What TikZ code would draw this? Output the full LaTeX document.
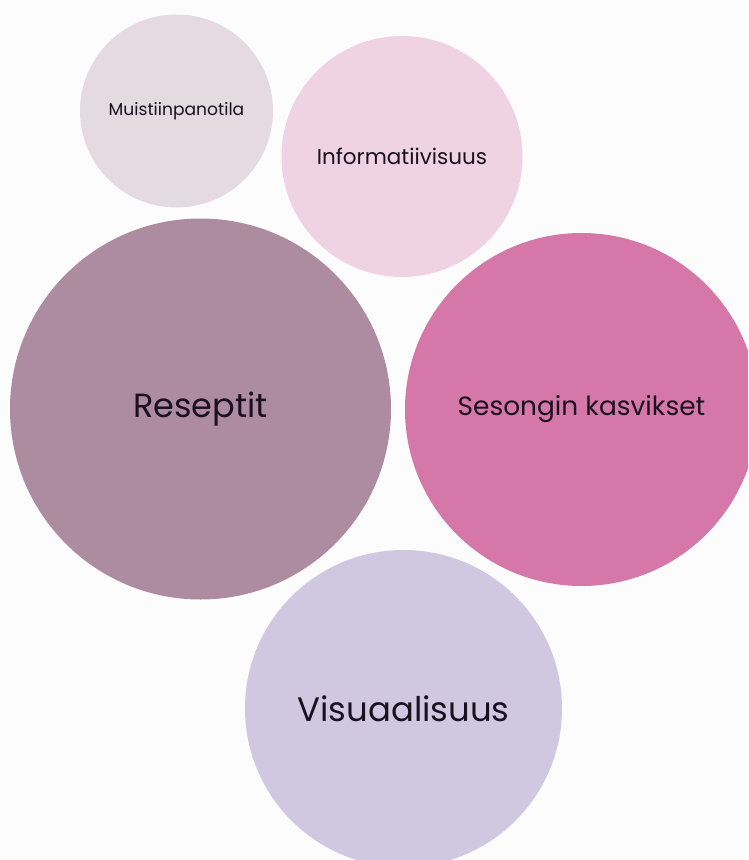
\documentclass[tikz,border=0pt]{standalone}
\usepackage{fontspec}
\setmainfont{Poppins}
\definecolor{bgc}{HTML}{FDFCFD}
\definecolor{inkc}{HTML}{1A1020}
\definecolor{cmuist}{HTML}{E4DADF}
\definecolor{cinfo}{HTML}{F0D3E3}
\definecolor{cresep}{HTML}{AD8BA0}
\definecolor{cseson}{HTML}{D578A9}
\definecolor{cvisu}{HTML}{D0C7E0}
\begin{document}
\begin{tikzpicture}[x=1pt,y=-1pt,
  bubble/.style={circle, inner sep=0pt, draw=none, text=inkc}]
  % page
  \fill[bgc] (0,0) rectangle (748,860);
  \useasboundingbox (0,0) rectangle (748,860);
  \begin{scope}
    \clip (0,0) rectangle (748,860);
    \node[bubble, fill=cmuist, minimum size=193pt, font=\fontsize{17.1}{20}\selectfont] (muist) at (176.5,111) {Muistiinpanotila};
    \node[bubble, fill=cinfo, minimum size=241pt, font=\fontsize{21.5}{25}\selectfont] (info) at (402,156.5) {Informatiivisuus};
    \node[bubble, fill=cresep, minimum size=381pt, font=\fontsize{33.5}{40}\selectfont] (resep) at (200.5,409) {Reseptit};
    \node[bubble, fill=cseson, minimum size=353pt, font=\fontsize{26.4}{31}\selectfont] (seson) at (581.5,409.5) {Sesongin kasvikset};
    \node[bubble, fill=cvisu, minimum size=317pt, font=\fontsize{33.9}{40}\selectfont] (visu) at (403.5,708.5) {Visuaalisuus};
  \end{scope}
\end{tikzpicture}
\end{document}
